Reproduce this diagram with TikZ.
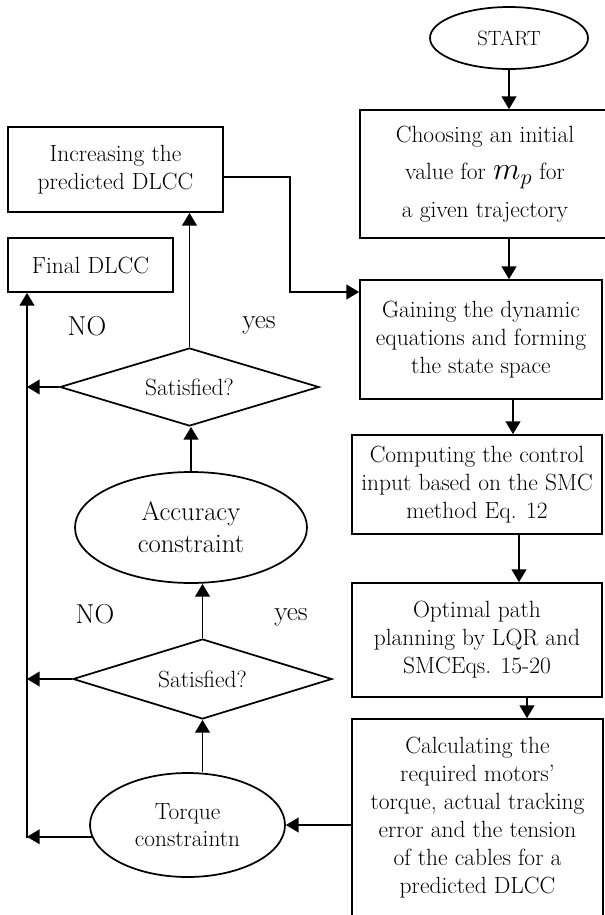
\RequirePackage{fix-cm}
\documentclass[tikz,border=0pt]{standalone}
\usepackage{fontspec}
\usepackage{amsmath}
\usetikzlibrary{arrows.meta,shapes.geometric}
\tikzset{
  % blocks of the chart
  stepbox/.style={draw,line width=1.3pt,rectangle,align=center,inner sep=2pt,font=\fontsize{17.6}{21}\selectfont},
  roundbox/.style={draw,line width=1.3pt,ellipse,align=center,inner sep=0pt},
  testbox/.style={draw,line width=1.3pt,diamond,aspect=3.3,inner sep=1pt,font=\fontsize{17.6}{21}\selectfont},
  % arrows between the blocks
  flow/.style={-{Triangle[length=9.5pt,width=11pt]},line width=1.3pt},
  answer/.style={font=\fontsize{20.5}{22}\selectfont},
}
\begin{document}
\begin{tikzpicture}[x=0.75pt,y=-0.75pt]
\useasboundingbox (0,0) rectangle (605,915);

\node[roundbox,minimum width=118.5pt,minimum height=46.5pt,font=\fontsize{15.5}{18}\selectfont] (start) at (509,38) {START};
\node[stepbox,minimum width=187.5pt,minimum height=96pt] (init) at (485,174) {Choosing an initial\\[7pt] value for {\fontsize{24}{24}\selectfont$m_p$} for\\[7pt] a given trajectory};
\node[stepbox,minimum width=181.5pt,minimum height=89.25pt] (gain) at (481,339.5) {Gaining the dynamic\\ equations and forming\\ the state space};
\node[stepbox,minimum width=187.5pt,minimum height=74.25pt] (comp) at (477,484.5) {Computing the control\\ input based on the SMC\\ method Eq. 12};
\node[stepbox,minimum width=187.5pt,minimum height=85.5pt] (plan) at (477,640) {Optimal path\\ planning by LQR and\\ SMCEqs. 15-20};
\node[stepbox,minimum width=188.25pt,minimum height=148.5pt] (calc) at (477.5,818) {Calculating the\\ required motors'\\ torque, actual tracking\\ error and the tension\\ of the cables for a\\ predicted DLCC};

\node[stepbox,minimum width=161.25pt,minimum height=63.75pt] (incr) at (115.5,169.5) {Increasing the\\ predicted DLCC};
\node[stepbox,minimum width=123.75pt,minimum height=40.5pt] (final) at (90.5,265) {Final DLCC};
\node[testbox,minimum width=194.25pt,minimum height=58.5pt] (sat1) at (189.5,387) {Satisfied?};
\node[roundbox,minimum width=174pt,minimum height=83.25pt,font=\fontsize{20}{24}\selectfont] (acc) at (191,527.5) {Accuracy\\ constraint};
\node[testbox,minimum width=194.25pt,minimum height=60pt] (sat2) at (202.5,679) {Satisfied?};
\node[roundbox,minimum width=146.25pt,minimum height=78pt,font=\fontsize{17.5}{20.5}\selectfont] (torque) at (187.5,825) {Torque\\ constraintn};

\node[answer] (no1) at (87,326) {NO};
\node[answer] (yes1) at (259,325) {yes};
\node[answer] (no2) at (95,614) {NO};
\node[answer] (yes2) at (291,617) {yes};

% main line on the right
\draw[flow] (start.south) -- (start.south |- init.north);
\draw[flow] (init.south -| start) -- (gain.north -| start);
\draw[flow] (gain.south -| 513,0) -- (comp.north -| 513,0);
\draw[flow] (comp.south -| 519,0) -- (plan.north -| 519,0);
\draw[flow] (plan.south -| 527,0) -- (calc.north -| 527,0);
\draw[flow] (calc.west |- torque.east) -- (torque.east);

% checks on the left
\draw[flow] (sat2.south |- torque.north) -- (sat2.south);
\draw[flow] (sat2.north) -- (sat2.north |- acc.south);
\draw[flow] (acc.north) -- (acc.north |- sat1.south);
\draw[flow] (sat1.north) -- (sat1.north |- incr.south);

\coordinate (bus) at (27,838);
\draw[flow] (bus) -- (bus |- final.south);
\draw[flow] (torque.187) -- (torque.187 -| bus);
\draw[flow] (sat2.west) -- (sat2.west -| bus);
\draw[flow] (sat1.west) -- (sat1.west -| bus);

\coordinate (bend) at (290,292);
\draw[flow] ([yshift=-5.6pt]incr.east) -| (bend) -- (bend -| gain.west);

\end{tikzpicture}
\end{document}
